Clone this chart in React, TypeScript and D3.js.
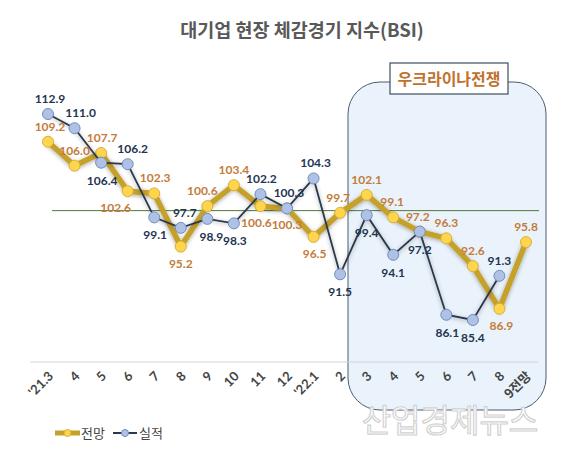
import React from "react";
import * as d3 from "d3";

const categories = ["'21.3", "4", "5", "6", "7", "8", "9", "10", "11", "12", "'22.1", "2", "3", "4", "5", "6", "7", "8", "9전망"];
const forecast = [109.2, 106.0, 107.7, 102.6, 102.3, 95.2, 100.6, 103.4, 100.6, 100.3, 96.5, 99.7, 102.1, 99.1, 97.2, 96.3, 92.6, 86.9, 95.8];
const actual = [112.9, 111.0, 106.4, 106.2, 99.1, 97.7, 98.9, 98.3, 102.2, 100.3, 104.3, 91.5, 99.4, 94.1, 97.2, 86.1, 85.4, 91.3];
// label placement: 1 = above, -1 = below
const forecastLabelPos = [1, 1, 1, -1, 1, -1, 1, 1, -1, -1, -1, 1, 1, 1, 1, 1, 1, -1, 1];
const actualLabelPos = [1, 1, -1, 1, -1, 1, -1, -1, 1, 1, 1, -1, -1, -1, -1, -1, -1, 1];
const forecastLabelDx = [2, 0, 1, -12, 1, 0, -5, 0, -4, 0, 1, -2, 0, -1, -2, 0, 0, 2, 0];
const actualLabelDx = [2, 6, 1, 5, 1, 4, 4, 1, 1, 2, 2, 0, 0, 0, 0, 1, 0, 0];
const refValue = 100;

const W = 585;
const H = 473;
const font = "Lato, 'Noto Sans CJK KR', sans-serif";
const krFont = "'Noto Sans CJK KR', sans-serif";

export default function App() {
  const x = d3.scalePoint<number>().domain(d3.range(categories.length)).range([48, 526]);
  const y = d3.scaleLinear().domain([85.4, 112.9]).range([320, 114]);

  const line = d3
    .line<number>()
    .x((_, i) => x(i)!)
    .y((d) => y(d));

  const yellowLine = "#C6A12C";
  const yellowFill = "#FFD54F";
  const yellowStroke = "#D9B233";
  const blueLine = "#2C394C";
  const blueFill = "#AFC2E6";
  const blueStroke = "#6F8DC0";
  const yellowText = "#C47B3A";
  const blueText = "#1F3552";

  return (
    <svg width={W} height={H} style={{ position: "absolute", left: 0, top: 0, background: "#fff" }}>
      <defs>
        <filter id="glow" x="-10%" y="-10%" width="120%" height="120%">
          <feGaussianBlur in="SourceAlpha" stdDeviation="2.2" />
          <feOffset dx="0" dy="1" result="b" />
          <feFlood floodColor="#000" floodOpacity="0.35" />
          <feComposite in2="b" operator="in" />
          <feMerge>
            <feMergeNode />
            <feMergeNode in="SourceGraphic" />
          </feMerge>
        </filter>
      </defs>
      <rect x={0} y={0} width={W} height={H} fill="#fff" />
      <text x={302} y={37} textAnchor="middle" fontFamily={krFont} fontWeight={700} fontSize={18.5} fill="#595959">
        대기업 현장 체감경기 지수(BSI)
      </text>

      {/* war period box */}
      <rect x={348} y={82} width={198} height={328} rx={32} ry={32} fill="#EAF3FB" stroke="#4A5D70" strokeWidth={1} />
      <rect x={390} y={63} width={118} height={31} fill="#fff" stroke="#3D4F62" strokeWidth={1.2} />
      <text x={449} y={85} textAnchor="middle" fontFamily={krFont} fontWeight={700} fontSize={16} fill="#C0722F">
        우크라이나전쟁
      </text>

      {/* axis baseline */}
      <line x1={30} x2={538} y1={362} y2={362} stroke="#D0D4D8" strokeWidth={1} />
      {/* reference line */}
      <line x1={52} x2={539} y1={y(refValue)} y2={y(refValue)} stroke="#4E7A3A" strokeWidth={1} />

      {/* x tick labels */}
      {categories.map((c, i) => (
        <text
          key={"t" + i}
          transform={`translate(${x(i)! + 6},${377}) rotate(-45)`}
          textAnchor="end"
          fontFamily={i === 18 ? krFont : font}
          fontWeight={700}
          fontSize={13}
          fill="#444"
        >
          {c}
        </text>
      ))}

      {/* forecast line */}
      <path d={line(forecast) || ""} fill="none" stroke={yellowLine} strokeWidth={5.5} strokeLinejoin="round" filter="url(#glow)" />
      {forecast.map((v, i) => (
        <circle key={"fc" + i} cx={x(i)} cy={y(v)} r={5.5} fill={yellowFill} stroke={yellowStroke} strokeWidth={1} />
      ))}

      {/* actual line */}
      <path d={line(actual) || ""} fill="none" stroke={blueLine} strokeWidth={1.8} filter="url(#glow)" />
      {actual.map((v, i) => (
        <circle key={"ac" + i} cx={x(i)} cy={y(v)} r={5.5} fill={blueFill} stroke={blueStroke} strokeWidth={1} />
      ))}

      {/* labels */}
      {forecast.map((v, i) => (
        <text
          key={"fl" + i}
          x={x(i)! + forecastLabelDx[i]}
          y={y(v) + (forecastLabelPos[i] > 0 ? -11 : 21)}
          textAnchor="middle"
          fontFamily={font}
          fontWeight={700}
          fontSize={12}
          fill={yellowText}
        >
          {v.toFixed(1)}
        </text>
      ))}
      {actual.map((v, i) => (
        <text
          key={"al" + i}
          x={x(i)! + actualLabelDx[i]}
          y={y(v) + (actualLabelPos[i] > 0 ? -11 : 22)}
          textAnchor="middle"
          fontFamily={font}
          fontWeight={700}
          fontSize={12}
          fill={blueText}
        >
          {v.toFixed(1)}
        </text>
      ))}

      {/* watermark */}
      <text x={450} y={432} textAnchor="middle" fontFamily={krFont} fontWeight={400} fontSize={32} fill="#fff" stroke="#D2D2D2" strokeWidth={1.2}>
        산업경제뉴스
      </text>

      {/* legend */}
      <line x1={55} x2={80} y1={433} y2={433} stroke={yellowLine} strokeWidth={5} />
      <circle cx={67.5} cy={433} r={3.5} fill={yellowFill} stroke={yellowStroke} />
      <text x={81} y={438} fontFamily={krFont} fontSize={13} fill="#444">전망</text>
      <line x1={113} x2={137} y1={433} y2={433} stroke={blueLine} strokeWidth={2} />
      <circle cx={125} cy={433} r={3.5} fill={blueFill} stroke={blueStroke} />
      <text x={139} y={438} fontFamily={krFont} fontSize={13} fill="#444">실적</text>
    </svg>
  );
}
